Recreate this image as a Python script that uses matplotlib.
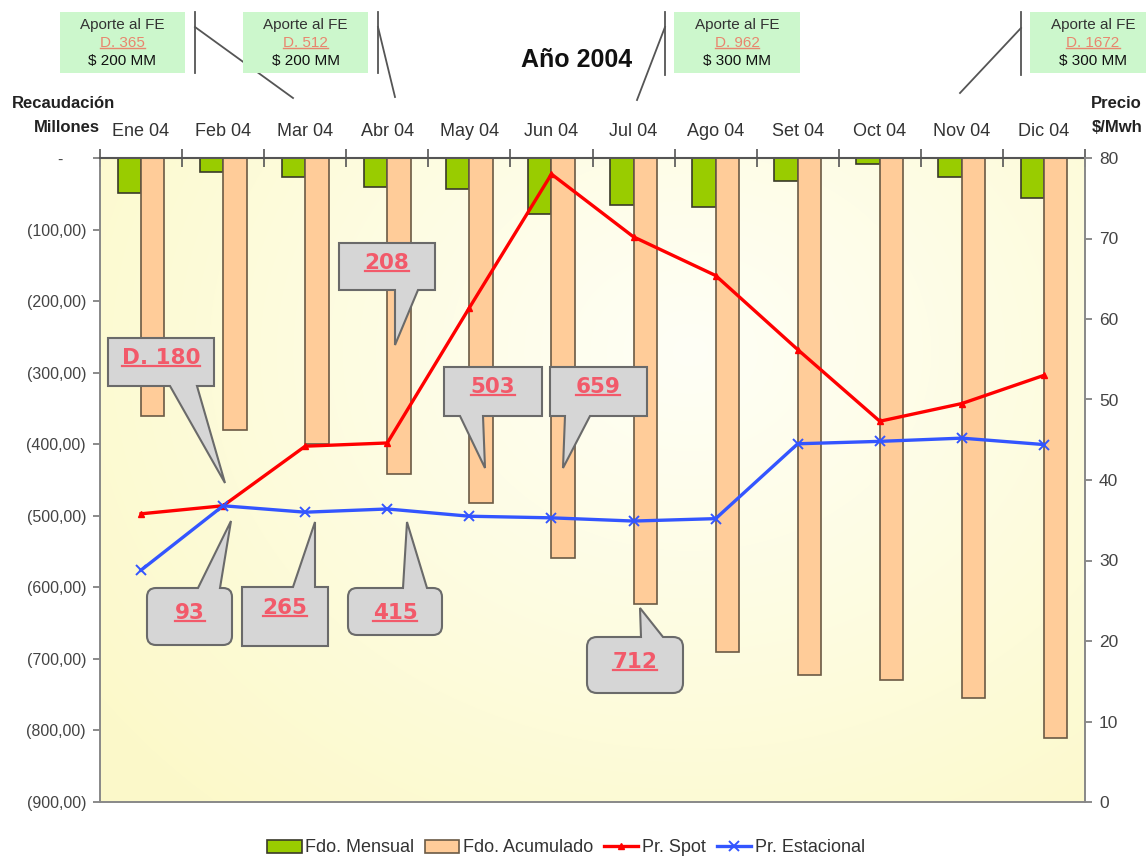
import numpy as np
import matplotlib
matplotlib.use('Agg')
import matplotlib.pyplot as plt
import matplotlib.transforms as mtransforms
from matplotlib.path import Path
from matplotlib.patches import PathPatch, Patch, Rectangle
from matplotlib.lines import Line2D

plt.rcParams['font.family'] = ['Liberation Sans', 'DejaVu Sans']

# ---- datos ----
meses = ['Ene 04', 'Feb 04', 'Mar 04', 'Abr 04', 'May 04', 'Jun 04',
         'Jul 04', 'Ago 04', 'Set 04', 'Oct 04', 'Nov 04', 'Dic 04']
fdo_mensual = [-49, -19, -26, -40, -43, -78, -65, -69, -32, -9, -26, -56]
fdo_acumulado = [-361, -380, -399, -441, -482, -559, -623, -691, -722, -730, -755, -810]
pr_spot = [35.8, 36.8, 44.2, 44.6, 61.4, 78.0, 70.2, 65.4, 56.2, 47.3, 49.5, 53.0]
pr_estacional = [28.8, 36.8, 36.0, 36.4, 35.5, 35.3, 34.9, 35.2, 44.5, 44.8, 45.2, 44.4]

aporte_decreto = ['D. 365', 'D. 512', 'D. 962', 'D. 1672']
aporte_monto = ['$ 200 MM', '$ 200 MM', '$ 300 MM', '$ 300 MM']
globos = ['D. 180', '208', '503', '659', '93', '265', '415', '712']

W, H = 1146, 860
fig = plt.figure(figsize=(W / 100, H / 100), dpi=100)
ax = fig.add_axes([100 / W, 1 - 802 / H, 985 / W, 644 / H])
# coordenadas en pixeles de la figura (origen arriba a la izquierda)
px = mtransforms.Affine2D().scale(1 / W, -1 / H).translate(0, 1) + fig.transFigure

# fondo degradado del area de grafico
ny, nx = 200, 300
xx, yy = np.meshgrid(np.linspace(0, 1, nx), np.linspace(0, 1, ny))
d = np.clip(np.sqrt(((xx - 0.6) / 0.75) ** 2 + ((yy - 0.3) / 0.95) ** 2), 0, 1)
inner = np.array([1.0, 1.0, 0.965])
outer = np.array([0.988, 0.976, 0.79])
img = inner + (outer - inner) * d[..., None] ** 1.0
ax.imshow(img, extent=[-0.5, 11.5, -900, 0], aspect='auto', origin='upper',
          zorder=0, interpolation='bilinear')

x = np.arange(len(meses))
w = 0.285
ax.bar(x, fdo_mensual, width=-w, align='edge', color='#99cc00',
       edgecolor='#3a3a2a', linewidth=1.2, zorder=2)
ax.bar(x, fdo_acumulado, width=w, align='edge', color='#ffcc99',
       edgecolor='#6b5a45', linewidth=1.2, zorder=2)
ax.set_xlim(-0.5, 11.5)
ax.set_ylim(-900, 0)

# eje izquierdo: formato contable
yt = np.arange(-900, 1, 100)
ax.set_yticks(yt)
ax.set_yticklabels(['-     ' if v == 0 else f'({abs(v):.0f},00)' for v in yt])
ax.tick_params(axis='y', direction='out', length=5, width=1.2, color='#777',
               labelsize=11.5, labelcolor='#444', pad=5)

# meses arriba
ax.xaxis.tick_top()
ax.set_xticks(x)
ax.set_xticklabels(meses)
ax.set_xticks(np.arange(-0.5, 12, 1), minor=True)
ax.tick_params(axis='x', which='major', length=0, pad=13, labelsize=13,
               labelcolor='#333')
ax.tick_params(axis='x', which='minor', direction='inout', length=13,
               width=1.2, color='#555', top=True, bottom=False)
for s in ['left', 'bottom']:
    ax.spines[s].set_color('#888')
    ax.spines[s].set_linewidth(1.4)
ax.spines['top'].set_color('#555')
ax.spines['top'].set_linewidth(1.5)
ax.spines['right'].set_visible(False)

ax2 = ax.twinx()
ax2.set_ylim(0, 80)
ax2.set_yticks(np.arange(0, 81, 10))
ax2.tick_params(axis='y', direction='out', length=5, width=1.2, color='#777',
                labelsize=12.5, labelcolor='#444', pad=5)
for s in ['left', 'top', 'bottom']:
    ax2.spines[s].set_visible(False)
ax2.spines['right'].set_color('#888')
ax2.spines['right'].set_linewidth(1.4)

ax2.plot(x, pr_spot, color='#ff0000', lw=2.4, marker='^', ms=5, zorder=3)
ax2.plot(x, pr_estacional, color='#3355ff', lw=2.4, marker='x', ms=7,
         mew=1.4, zorder=4)

# titulos de ejes
hdr = dict(weight='bold', size=12, color='#222', va='center')
fig.text(12 / W, 1 - 103 / H, 'Recaudación', ha='left', **hdr)
fig.text(100 / W, 1 - 128 / H, 'Millones', ha='right', **hdr)
fig.text(1142 / W, 1 - 103 / H, 'Precio', ha='right', **hdr)
fig.text(1142 / W, 1 - 128 / H, '$/Mwh', ha='right', **hdr)
fig.text(577 / W, 1 - 60 / H, 'Año 2004', ha='center', va='center',
         weight='bold', size=18, color='#111')

underlined = []

# recuadros de aportes al FE
cajas = [(60, 185), (243, 368), (674, 800), (1030, 1156)]
guias = [[(195, 12), (195, 73)], [(195, 27), (293, 98)],
         [(378, 12), (378, 73)], [(378, 27), (395, 97)],
         [(665, 12), (665, 75)], [(665, 27), (637, 100)],
         [(1021, 12), (1021, 75)], [(1021, 28), (960, 93)]]
for g in guias:
    fig.add_artist(Line2D([g[0][0], g[1][0]], [g[0][1], g[1][1]],
                          transform=px, color='#555', lw=1.3, zorder=5))
for (x0, x1), dec, monto in zip(cajas, aporte_decreto, aporte_monto):
    fig.add_artist(Rectangle((x0, 12), x1 - x0, 61, transform=px,
                             facecolor='#ccf7cc', edgecolor='none', zorder=6))
    cx = (x0 + x1) / 2
    fig.text(cx, 25, 'Aporte al FE', transform=px, ha='center', va='center',
             size=11, color='#333', zorder=7)
    t = fig.text(cx, 43, dec, transform=px, ha='center', va='center',
                 size=11, color='#e8866e', zorder=7)
    underlined.append((t, '#e8866e', 1.0))
    fig.text(cx, 61, monto, transform=px, ha='center', va='center',
             size=11, color='#111', zorder=7)


def globo(x0, y0, x1, y1, base, punta, lado, r=0):
    """Recuadro con cola (en pixeles) para los llamados."""
    v, c = [], []

    def mv(p):
        v.append(p); c.append(Path.MOVETO)

    def ln(p):
        v.append(p); c.append(Path.LINETO)

    def cv(ctrl, p):
        if r:
            v.extend([ctrl, p]); c.extend([Path.CURVE3, Path.CURVE3])

    mv((x0 + r, y0))
    if lado == 'top':
        ln((base[0], y0)); ln(punta); ln((base[1], y0))
    ln((x1 - r, y0)); cv((x1, y0), (x1, y0 + r))
    ln((x1, y1 - r)); cv((x1, y1), (x1 - r, y1))
    if lado == 'bottom':
        ln((base[1], y1)); ln(punta); ln((base[0], y1))
    ln((x0 + r, y1)); cv((x0, y1), (x0, y1 - r))
    ln((x0, y0 + r)); cv((x0, y0), (x0 + r, y0))
    v.append((x0 + r, y0)); c.append(Path.CLOSEPOLY)
    return Path(v, c)


formas = [
    ((108, 338, 214, 386), (170, 197), (225, 483), 'bottom', 0, (161, 358)),
    ((339, 243, 435, 290), (395, 418), (395, 345), 'bottom', 0, (387, 263)),
    ((444, 367, 542, 416), (460, 483), (485, 468), 'bottom', 0, (493, 387)),
    ((550, 367, 647, 416), (565, 590), (563, 468), 'bottom', 0, (598, 387)),
    ((147, 588, 232, 645), (198, 220), (231, 521), 'top', 9, (190, 613)),
    ((242, 587, 328, 646), (293, 315), (315, 522), 'top', 0, (285, 608)),
    ((348, 588, 442, 635), (403, 427), (407, 522), 'top', 9, (395, 613)),
    ((587, 637, 683, 693), (641, 663), (640, 608), 'top', 10, (635, 662)),
]
for etiqueta, (caja, base, punta, lado, r, pos) in zip(globos, formas):
    fig.add_artist(PathPatch(globo(*caja, base, punta, lado, r), transform=px,
                             facecolor='#d6d6d6', edgecolor='#6a6a6a',
                             lw=1.5, zorder=10))
    t = fig.text(pos[0], pos[1], etiqueta, transform=px, ha='center',
                 va='center', size=15.5, weight='bold', color='#f25a6a',
                 family=['DejaVu Sans'], zorder=11)
    underlined.append((t, '#f25a6a', 1.6))

# leyenda
handles = [Patch(facecolor='#99cc00', edgecolor='#3a3a2a', lw=1.2),
           Patch(facecolor='#ffcc99', edgecolor='#6b5a45', lw=1.2),
           Line2D([], [], color='#ff0000', lw=2.4, marker='^', ms=5),
           Line2D([], [], color='#3355ff', lw=2.4, marker='x', ms=7, mew=1.4)]
fig.legend(handles, ['Fdo. Mensual', 'Fdo. Acumulado', 'Pr. Spot',
                     'Pr. Estacional'],
           loc='center', bbox_to_anchor=(566 / W, 1 - 848 / H), ncol=4,
           frameon=False, fontsize=13, handlelength=1.9, handletextpad=0.2,
           columnspacing=0.6, labelcolor='#333')

# subrayado de los textos enlazados
fig.canvas.draw()
ren = fig.canvas.get_renderer()
ident = mtransforms.IdentityTransform()
for t, col, lw in underlined:
    bb = t.get_window_extent(ren)
    yl = bb.y0 + 2.5
    fig.add_artist(Line2D([bb.x0, bb.x1], [yl, yl], transform=ident,
                          color=col, lw=lw, zorder=t.get_zorder()))

fig.savefig('out.png', dpi=100, facecolor='white')
